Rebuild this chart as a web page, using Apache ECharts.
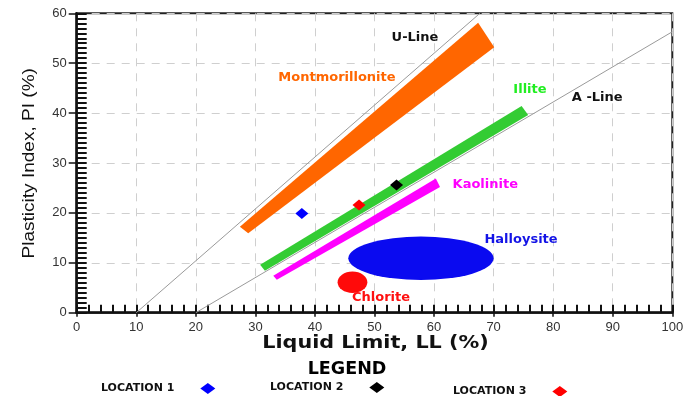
<!DOCTYPE html>
<html>
<head>
<meta charset="utf-8">
<script src="https://cdn.jsdelivr.net/npm/echarts@6/dist/echarts.min.js"></script>
<style>html,body{margin:0;padding:0;background:#fff}#c{width:691px;height:396px}</style>
</head>
<body>
<div id="c"></div>
<script>
// ---- data ----
var xTicks = [0, 100, 10];          // min, max, major step (Liquid Limit)
var yTicks = [0, 60, 10];           // min, max, major step (Plasticity Index)
var xMinorStep = 2;
var yMinorStep = 1;
var uLine = [[10, 0], [67.7, 60]];
var aLine = [[20, 0], [100, 56.3]];
var montmorilloniteBand = [[27.4, 17.2], [28.8, 15.9], [70.1, 53.2], [67.4, 58.1]];
var illiteBand = [[30.8, 9.6], [31.6, 8.4], [75.8, 39.6], [74.7, 41.4]];
var kaoliniteBand = [[33.0, 7.4], [33.6, 6.6], [61.0, 25.2], [60.3, 26.9]];
// ellipse: [centre LL, centre PI, half-width LL, half-height PI]
var halloysiteZone = [57.8, 10.9, 12.2, 4.35];
var chloriteZone = [46.3, 6.1, 2.5, 2.15];
var locationNames = ['LOCATION 1', 'LOCATION 2', 'LOCATION 3'];
var locationLL = [37.8, 53.7, 47.4];
var locationPI = [19.9, 25.6, 21.6];
var annotationNames = ['U-Line', 'Montmorillonite', 'Illite', 'A -Line', 'Kaolinite', 'Halloysite', 'Chlorite'];
var annotationLL = [56.8, 43.7, 76.1, 87.4, 68.6, 74.6, 51.1];
var annotationPI = [55.2, 47.2, 44.8, 43.2, 25.6, 14.6, 2.95];
var xTitle = 'Liquid Limit, LL (%)';
var yTitle = 'Plasticity Index, PI (%)';
var legendTitle = 'LEGEND';

// ---- styles ----
var colors = {
  'U-Line': '#111', 'A -Line': '#111', 'Montmorillonite': '#FF6600', 'Illite': '#22EE22',
  'Kaolinite': '#FF00FF', 'Halloysite': '#1414E6', 'Chlorite': '#FF1010',
  'LOCATION 1': '#0000FF', 'LOCATION 2': '#000000', 'LOCATION 3': '#FF0000'
};
var bandColors = { 'Montmorillonite': '#FF6600', 'Illite': '#33CC33', 'Kaolinite': '#FF00FF' };
var zoneColors = { 'Halloysite': '#0A0AF0', 'Chlorite': '#FF0A0A' };

var chart = echarts.init(document.getElementById('c'), null, { renderer: 'canvas' });

function bandSeries(name, pts) {
  return {
    type: 'custom', name: name, xAxisIndex: 0, yAxisIndex: 0, silent: true, z: 3,
    data: [0],
    renderItem: function (params, api) {
      return {
        type: 'polygon',
        shape: { points: pts.map(function (p) { return api.coord(p); }) },
        style: { fill: bandColors[name] }
      };
    }
  };
}
function zoneSeries(name, z) {
  return {
    type: 'custom', name: name, xAxisIndex: 0, yAxisIndex: 0, silent: true, z: 3,
    data: [z],
    renderItem: function (params, api) {
      var c = api.coord([z[0], z[1]]);
      var e = api.coord([z[0] + z[2], z[1] + z[3]]);
      return {
        type: 'circle', x: c[0], y: c[1],
        scaleX: Math.abs(e[0] - c[0]), scaleY: Math.abs(c[1] - e[1]),
        shape: { cx: 0, cy: 0, r: 1 },
        style: { fill: zoneColors[name] }
      };
    }
  };
}

var series = [
  { type: 'line', name: 'U', data: uLine, symbol: 'none', silent: true, z: 2,
    lineStyle: { color: '#9a9a9a', width: 1 } },
  { type: 'line', name: 'A', data: aLine, symbol: 'none', silent: true, z: 2,
    lineStyle: { color: '#9a9a9a', width: 1 } },
  bandSeries('Montmorillonite', montmorilloniteBand),
  bandSeries('Illite', illiteBand),
  bandSeries('Kaolinite', kaoliniteBand),
  zoneSeries('Halloysite', halloysiteZone),
  zoneSeries('Chlorite', chloriteZone),
  {
    type: 'scatter', name: 'labels', symbolSize: 0, silent: true, z: 6,
    itemStyle: { opacity: 1 },
    data: annotationNames.map(function (n, i) {
      return { name: n, value: [annotationLL[i], annotationPI[i]],
        label: { color: colors[n], opacity: 1 } };
    }),
    label: { show: true, position: 'inside', formatter: '{b}', opacity: 1,
      fontFamily: 'DejaVu Sans', fontWeight: 'bold', fontSize: 13 }
  }
];
locationNames.forEach(function (n, i) {
  series.push({
    type: 'scatter', name: n, symbol: 'diamond', symbolSize: [13, 11], z: 7,
    itemStyle: { color: colors[n], opacity: 1 },
    data: [[locationLL[i], locationPI[i]]]
  });
});

var legendPos = [[101, 383], [270, 382], [453, 386]];
var legends = locationNames.map(function (n, i) {
  return {
    data: [n], left: legendPos[i][0], top: legendPos[i][1], align: 'right',
    orient: 'horizontal', padding: 0, itemWidth: 15, itemHeight: 11, icon: 'diamond',
    selectedMode: false,
    textStyle: { fontFamily: 'DejaVu Sans', fontWeight: 'bold', fontSize: 11, color: '#111',
      padding: [0, 21, 0, 0] }
  };
});

var axisLabelFont = { fontFamily: 'Liberation Sans', fontSize: 13, color: '#333' };
var gridBox = { left: 76.7, right: 18.7, top: 13.3, bottom: 83.3 };

chart.setOption({
  animation: false,
  backgroundColor: '#fff',
  legend: legends,
  grid: [
    Object.assign({ show: true, borderColor: '#222', borderWidth: 2, backgroundColor: 'transparent' }, gridBox),
    Object.assign({ show: false }, gridBox)
  ],
  xAxis: [
    { type: 'value', gridIndex: 0, min: xTicks[0], max: xTicks[1], interval: xTicks[2], position: 'bottom',
      axisLine: { show: true, onZero: false, lineStyle: { color: '#111', width: 2.5 } },
      axisTick: { show: true, inside: false, length: 4, lineStyle: { color: '#111', width: 1.5 } },
      axisLabel: Object.assign({ margin: 8 }, axisLabelFont),
      splitLine: { show: true, lineStyle: { color: '#cfcfcf', type: [8, 7], width: 1 } } },
    { type: 'value', gridIndex: 1, min: xTicks[0], max: xTicks[1], interval: xMinorStep, position: 'bottom',
      axisLine: { show: false }, axisLabel: { show: false }, splitLine: { show: false },
      axisTick: { show: true, inside: true, length: 8, lineStyle: { color: '#111', width: 2 } } }
  ],
  yAxis: [
    { type: 'value', gridIndex: 0, min: yTicks[0], max: yTicks[1], interval: yTicks[2], position: 'left',
      axisLine: { show: true, onZero: false, lineStyle: { color: '#111', width: 2.5 } },
      axisTick: { show: true, inside: false, length: 8, lineStyle: { color: '#111', width: 1.5 } },
      axisLabel: Object.assign({ margin: 10 }, axisLabelFont),
      splitLine: { show: true, lineStyle: { color: '#cfcfcf', type: [8, 7], width: 1 } } },
    { type: 'value', gridIndex: 1, min: yTicks[0], max: yTicks[1], interval: yMinorStep, position: 'left',
      axisLine: { show: false }, axisLabel: { show: false }, splitLine: { show: false },
      axisTick: { show: true, inside: true, length: 10, lineStyle: { color: '#111', width: 2 } } }
  ],
  graphic: [
    { type: 'text', x: 375.5, y: 344, scaleX: 1.22, silent: true,
      style: { text: xTitle, font: 'bold 17px "DejaVu Sans"', fill: '#111',
        align: 'center', verticalAlign: 'middle', textAlign: 'center', textVerticalAlign: 'middle' } },
    { type: 'text', x: 29.5, y: 163.3, rotation: Math.PI / 2, scaleX: 1.12, silent: true,
      style: { text: yTitle, font: '17px "Liberation Sans"', fill: '#111',
        align: 'center', verticalAlign: 'middle', textAlign: 'center', textVerticalAlign: 'middle' } },
    { type: 'text', x: 347, y: 369, silent: true,
      style: { text: legendTitle, font: 'bold 17.5px "DejaVu Sans"', fill: '#000',
        align: 'center', verticalAlign: 'middle', textAlign: 'center', textVerticalAlign: 'middle' } }
  ],
  series: series
});
</script>
</body>
</html>
